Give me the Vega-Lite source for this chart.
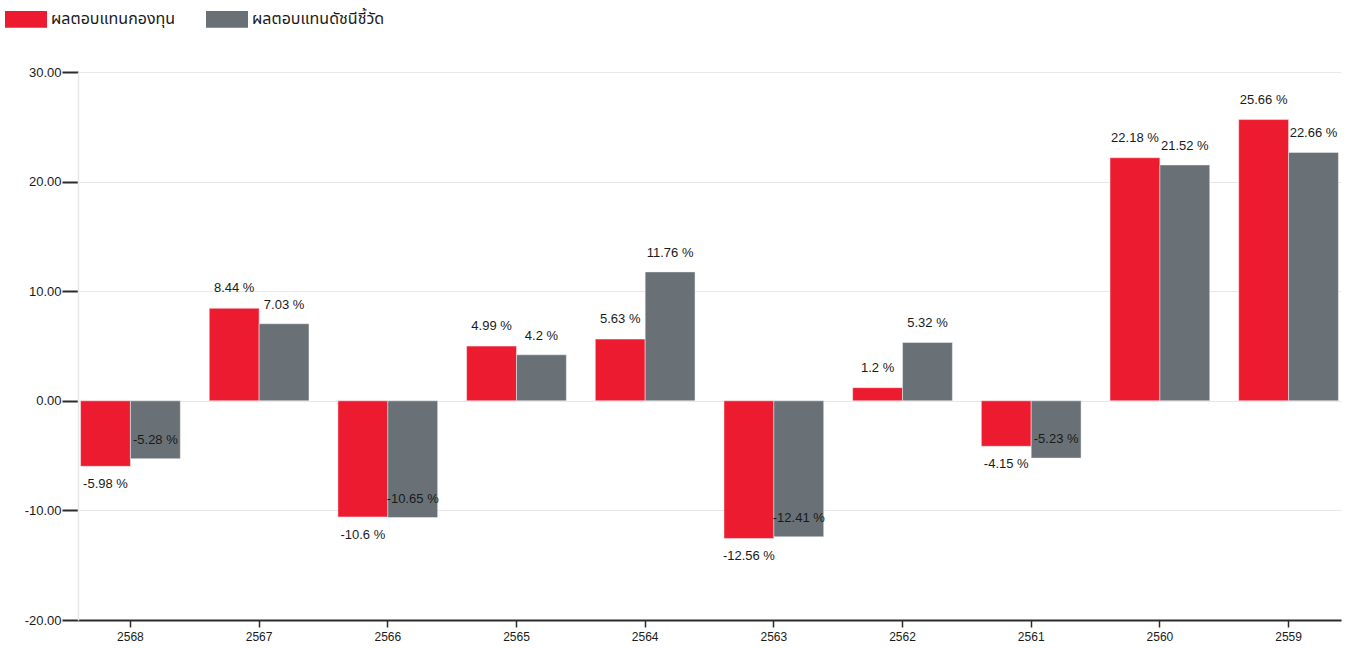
{
  "$schema": "https://vega.github.io/schema/vega-lite/v6.json",
  "width": 1263,
  "height": 548,
  "autosize": {"type": "none"},
  "padding": {"left": 78, "top": 72, "right": 17, "bottom": 28},
  "background": "white",
  "config": {
    "font": "Liberation Sans",
    "view": {"stroke": null},
    "text": {"font": "Liberation Sans", "fontSize": 13, "color": "#1a1a1a"}
  },
  "data": {
    "values": [
      {"year": "2568", "series": "ผลตอบแทนกองทุน", "value": -5.98},
      {"year": "2568", "series": "ผลตอบแทนดัชนีชี้วัด", "value": -5.28},
      {"year": "2567", "series": "ผลตอบแทนกองทุน", "value": 8.44},
      {"year": "2567", "series": "ผลตอบแทนดัชนีชี้วัด", "value": 7.03},
      {"year": "2566", "series": "ผลตอบแทนกองทุน", "value": -10.6},
      {"year": "2566", "series": "ผลตอบแทนดัชนีชี้วัด", "value": -10.65},
      {"year": "2565", "series": "ผลตอบแทนกองทุน", "value": 4.99},
      {"year": "2565", "series": "ผลตอบแทนดัชนีชี้วัด", "value": 4.2},
      {"year": "2564", "series": "ผลตอบแทนกองทุน", "value": 5.63},
      {"year": "2564", "series": "ผลตอบแทนดัชนีชี้วัด", "value": 11.76},
      {"year": "2563", "series": "ผลตอบแทนกองทุน", "value": -12.56},
      {"year": "2563", "series": "ผลตอบแทนดัชนีชี้วัด", "value": -12.41},
      {"year": "2562", "series": "ผลตอบแทนกองทุน", "value": 1.2},
      {"year": "2562", "series": "ผลตอบแทนดัชนีชี้วัด", "value": 5.32},
      {"year": "2561", "series": "ผลตอบแทนกองทุน", "value": -4.15},
      {"year": "2561", "series": "ผลตอบแทนดัชนีชี้วัด", "value": -5.23},
      {"year": "2560", "series": "ผลตอบแทนกองทุน", "value": 22.18},
      {"year": "2560", "series": "ผลตอบแทนดัชนีชี้วัด", "value": 21.52},
      {"year": "2559", "series": "ผลตอบแทนกองทุน", "value": 25.66},
      {"year": "2559", "series": "ผลตอบแทนดัชนีชี้วัด", "value": 22.66}
    ]
  },
  "transform": [{"calculate": "datum.value + ' %'", "as": "label"}],
  "encoding": {
    "x": {
      "field": "year", "type": "nominal", "sort": null,
      "scale": {"paddingInner": 0.225, "paddingOuter": 0.02},
      "axis": {
        "title": null, "labelAngle": 0, "domainColor": "#2b2b2b", "domainWidth": 2,
        "tickColor": "#2b2b2b", "tickWidth": 1.5, "tickSize": 7,
        "labelFontSize": 12, "labelColor": "#1a1a1a", "labelPadding": 4, "grid": false
      }
    },
    "xOffset": {
      "field": "series", "type": "nominal", "sort": ["ผลตอบแทนกองทุน", "ผลตอบแทนดัชนีชี้วัด"],
      "scale": {"paddingInner": 0, "paddingOuter": 0}
    },
    "y": {
      "field": "value", "type": "quantitative",
      "scale": {"domain": [-20, 30], "nice": false, "zero": false},
      "axis": {
        "title": null, "values": [-20, -10, 0, 10, 20, 30],
        "labelExpr": "replace(format(datum.value, '.2f'), '−', '-')",
        "gridColor": "#e8e8e8", "gridWidth": 1,
        "domainColor": "#e8e8e8", "domainWidth": 1.5,
        "tickColor": "#2b2b2b", "tickWidth": 2, "tickSize": 16,
        "labelFontSize": 13, "labelColor": "#1a1a1a", "labelPadding": 1
      }
    }
  },
  "layer": [
    {
      "mark": {"type": "bar", "stroke": "#f2f2f2", "strokeWidth": 0.5},
      "encoding": {
        "color": {
          "field": "series", "type": "nominal",
          "sort": ["ผลตอบแทนกองทุน", "ผลตอบแทนดัชนีชี้วัด"],
          "scale": {"domain": ["ผลตอบแทนกองทุน", "ผลตอบแทนดัชนีชี้วัด"], "range": ["#ED1B2F", "#697176"]},
          "legend": {
            "title": null, "orient": "none", "direction": "horizontal",
            "legendX": -73, "legendY": -74,
            "symbolType": "M-1,-0.4H1V0.4H-1Z", "symbolSize": 1764,
            "symbolStrokeWidth": 0, "symbolOpacity": 1,
            "labelFont": "Noto Sans Thai, Loma, Garuda, Tlwg Typo, sans-serif",
            "labelFontSize": 16, "labelFontWeight": "normal", "labelColor": "#1a1a1a", "labelOffset": 4,
            "columnPadding": 30
          }
        }
      }
    },
    {
      "transform": [{"filter": "datum.series === 'ผลตอบแทนกองทุน' && datum.value >= 0"}],
      "mark": {"type": "text", "baseline": "middle", "dy": -20},
      "encoding": {"text": {"field": "label"}}
    },
    {
      "transform": [{"filter": "datum.series === 'ผลตอบแทนกองทุน' && datum.value < 0"}],
      "mark": {"type": "text", "baseline": "middle", "dy": 18},
      "encoding": {"text": {"field": "label"}}
    },
    {
      "transform": [{"filter": "datum.series === 'ผลตอบแทนดัชนีชี้วัด'"}],
      "mark": {"type": "text", "baseline": "middle", "dy": -19},
      "encoding": {"text": {"field": "label"}}
    }
  ]
}
